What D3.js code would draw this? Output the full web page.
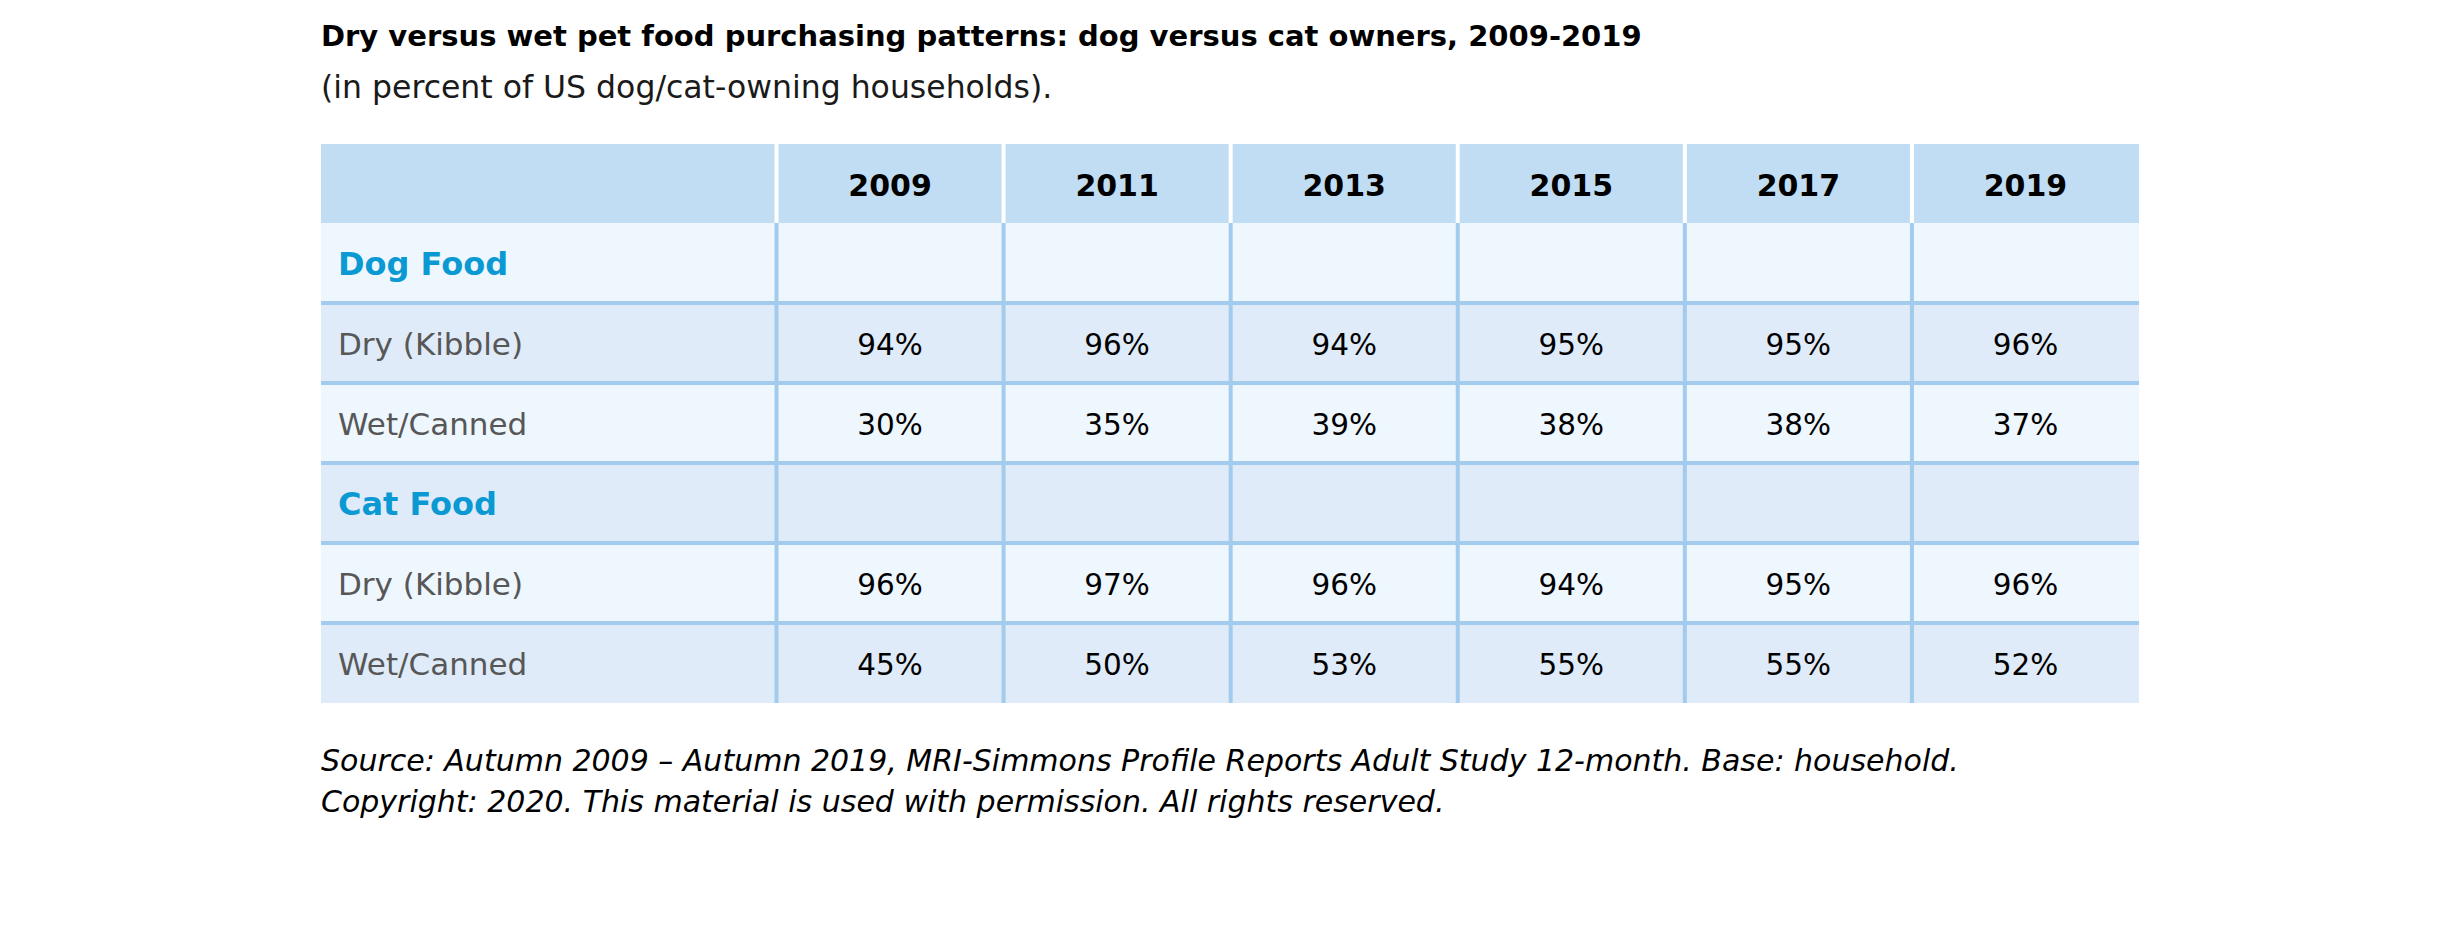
<!DOCTYPE html>
<html>
<head>
<meta charset="utf-8">
<script src="https://cdn.jsdelivr.net/npm/d3@7/dist/d3.min.js"></script>
<style>
  html, body { margin: 0; padding: 0; background: #ffffff; }
  svg { display: block; }
  text { font-family: "DejaVu Sans", "Open Sans", sans-serif; }
</style>
</head>
<body>
<svg id="chart" width="2457" height="945"></svg>
<script>
// ---- data ----
const title = "Dry versus wet pet food purchasing patterns: dog versus cat owners, 2009-2019";
const subtitle = "(in percent of US dog/cat-owning households).";
const years = ["2009", "2011", "2013", "2015", "2017", "2019"];
const groups = ["Dog Food", "Cat Food"];
const types = ["Dry (Kibble)", "Wet/Canned"];
const dogDry = [94, 96, 94, 95, 95, 96];
const dogWet = [30, 35, 39, 38, 38, 37];
const catDry = [96, 97, 96, 94, 95, 96];
const catWet = [45, 50, 53, 55, 55, 52];
const sourceLines = [
  "Source: Autumn 2009 \u2013 Autumn 2019, MRI-Simmons Profile Reports Adult Study 12-month. Base: household.",
  "Copyright: 2020. This material is used with permission. All rights reserved."
];

// table rows built from the arrays
const rows = [
  { label: groups[0], kind: "group", values: null },
  { label: types[0], kind: "item", values: dogDry },
  { label: types[1], kind: "item", values: dogWet },
  { label: groups[1], kind: "group", values: null },
  { label: types[0], kind: "item", values: catDry },
  { label: types[1], kind: "item", values: catWet }
];

// ---- layout ----
const svg = d3.select("#chart");
const tableLeft = 321, tableRight = 2139, labelColRight = 776.5;
const headerTop = 144, headerBottom = 223, tableBottom = 703;

const colColor = {
  header: "#c1ddf4",
  light: "#eef6fe",
  dark: "#dfebf8",
  line: "#a2cbee",
  blue: "#0a99d3",
  gray: "#575757"
};

const x = d3.scaleBand().domain(years).range([labelColRight, tableRight]).paddingInner(0);
const y = d3.scaleBand().domain(d3.range(rows.length)).range([headerBottom, tableBottom]).paddingInner(0);

// title
svg.append("text").attr("x", tableLeft).attr("y", 45.5)
  .attr("font-size", 29).attr("font-weight", 700).attr("fill", "#000").text(title);
svg.append("text").attr("x", tableLeft).attr("y", 97.5)
  .attr("font-size", 31.5).attr("fill", "#1a1a1a").text(subtitle);

// header background
svg.append("rect").attr("x", tableLeft).attr("y", headerTop)
  .attr("width", tableRight - tableLeft).attr("height", headerBottom - headerTop)
  .attr("fill", colColor.header);

// row backgrounds
svg.selectAll("rect.row").data(rows).join("rect")
  .attr("class", "row")
  .attr("x", tableLeft).attr("y", (d, i) => y(i))
  .attr("width", tableRight - tableLeft).attr("height", y.bandwidth())
  .attr("fill", (d, i) => i % 2 === 0 ? colColor.light : colColor.dark);

// horizontal lines between body rows
svg.selectAll("line.hline").data(d3.range(1, rows.length)).join("line")
  .attr("class", "hline")
  .attr("x1", tableLeft).attr("x2", tableRight)
  .attr("y1", i => y(i)).attr("y2", i => y(i))
  .attr("stroke", colColor.line).attr("stroke-width", 4);

// vertical lines: white in header, blue in body
const vxs = years.map(yr => x(yr));
svg.selectAll("line.vhead").data(vxs).join("line")
  .attr("class", "vhead")
  .attr("x1", d => d).attr("x2", d => d)
  .attr("y1", headerTop).attr("y2", headerBottom)
  .attr("stroke", "#ffffff").attr("stroke-width", 4);
svg.selectAll("line.vbody").data(vxs).join("line")
  .attr("class", "vbody")
  .attr("x1", d => d).attr("x2", d => d)
  .attr("y1", headerBottom).attr("y2", tableBottom)
  .attr("stroke", colColor.line).attr("stroke-width", 4);

// header year labels
svg.selectAll("text.year").data(years).join("text")
  .attr("class", "year")
  .attr("x", d => x(d) + x.bandwidth() / 2)
  .attr("y", (headerTop + headerBottom) / 2 + 12)
  .attr("text-anchor", "middle")
  .attr("font-size", 30).attr("font-weight", 700).attr("fill", "#000")
  .text(d => d);

// row labels
svg.selectAll("text.rowlabel").data(rows).join("text")
  .attr("class", "rowlabel")
  .attr("x", 338)
  .attr("y", (d, i) => y(i) + y.bandwidth() / 2 + 12)
  .attr("font-size", d => d.kind === "group" ? 32 : 31)
  .attr("font-weight", d => d.kind === "group" ? 700 : 400)
  .attr("fill", d => d.kind === "group" ? colColor.blue : colColor.gray)
  .text(d => d.label);

// cell values
const cells = [];
rows.forEach((r, i) => {
  if (r.values) r.values.forEach((v, j) => cells.push({ row: i, year: years[j], v }));
});
svg.selectAll("text.cell").data(cells).join("text")
  .attr("class", "cell")
  .attr("x", d => x(d.year) + x.bandwidth() / 2)
  .attr("y", d => y(d.row) + y.bandwidth() / 2 + 12)
  .attr("text-anchor", "middle")
  .attr("font-size", 29.5).attr("fill", "#000")
  .text(d => d.v + "%");

// source
svg.selectAll("text.source").data(sourceLines).join("text")
  .attr("class", "source")
  .attr("x", tableLeft)
  .attr("y", (d, i) => 770.5 + i * 41)
  .attr("font-size", 30).attr("font-style", "italic").attr("fill", "#000")
  .text(d => d);
</script>
</body>
</html>
